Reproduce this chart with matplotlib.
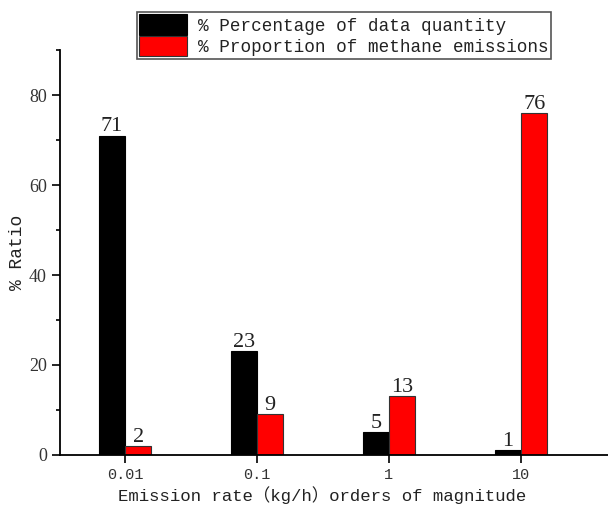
import numpy as np
import matplotlib.pyplot as plt
from matplotlib.ticker import MultipleLocator

plt.rcParams['font.family'] = ['Liberation Mono', 'Noto Sans CJK SC', 'DejaVu Sans']

categories = ['0.01', '0.1', '1', '10']
data_quantity = [71, 23, 5, 1]
methane_emissions = [2, 9, 13, 76]

fig = plt.figure(figsize=(6.08, 5.14), dpi=100)
ax = fig.add_axes([0.0987, 0.1148, 0.9013, 0.7879])

x = np.arange(len(categories))
w = 0.2
b1 = ax.bar(x - w / 2, data_quantity, w, color='black', edgecolor='black', linewidth=0.8,
            label='% Percentage of data quantity')
b2 = ax.bar(x + w / 2, methane_emissions, w, color='#ff0000', edgecolor='#333333', linewidth=0.8,
            label='% Proportion of methane emissions')

for bars, vals in ((b1, data_quantity), (b2, methane_emissions)):
    for r, v in zip(bars, vals):
        ax.text(r.get_x() + r.get_width() / 2, v - 0.2, str(v), ha='center', va='bottom',
                fontsize=16, color='#222222', family=['Liberation Serif', 'DejaVu Serif'])

ax.set_xlim(-0.492, 3.659)
ax.set_ylim(0, 90)
ax.set_xticks(x)
ax.set_xticklabels(categories, fontsize=11, color='#333333')
ax.yaxis.set_major_locator(MultipleLocator(20))
ax.yaxis.set_minor_locator(MultipleLocator(10))
ax.set_yticks([0, 20, 40, 60, 80])
for lab in ax.get_yticklabels():
    lab.set_family(['Liberation Serif', 'DejaVu Serif'])
    lab.set_fontsize(13)
    lab.set_color('#333333')
ax.tick_params(axis='both', direction='out', width=1.2, length=6)
ax.tick_params(axis='y', which='minor', direction='out', width=1.2, length=3)
ax.spines['top'].set_visible(False)
ax.spines['right'].set_visible(False)
ax.spines['left'].set_linewidth(1.3)
ax.spines['bottom'].set_linewidth(1.3)

ax.set_xlabel('Emission rate（kg/h）orders of magnitude', fontsize=12.5, color='#222222')
ax.xaxis.set_label_coords(0.478, -0.078)
ax.set_ylabel('% Ratio', fontsize=13, labelpad=2, color='#222222')

leg = fig.legend(loc='upper left', bbox_to_anchor=(0.225, 0.977), fontsize=12.7,
                 frameon=True, fancybox=False, edgecolor='#555555', framealpha=1,
                 handlelength=2.7, handleheight=1.4, handletextpad=0.6,
                 borderpad=0.15, labelspacing=0.05, borderaxespad=0)
leg.get_frame().set_linewidth(1.2)
for t in leg.get_texts():
    t.set_color('#222222')

plt.savefig('out.png', dpi=100)
